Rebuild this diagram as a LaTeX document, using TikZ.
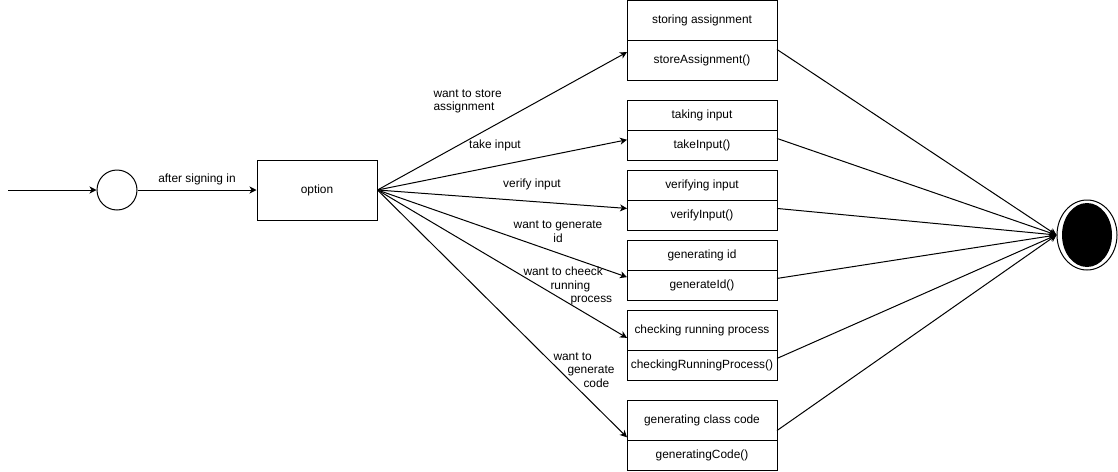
\documentclass[tikz,border=0pt]{standalone}
\usepackage{fontspec}
\setmainfont{Liberation Sans}
\usetikzlibrary{arrows.meta,shapes.geometric}

\begin{document}
\begin{tikzpicture}[x=1pt, y=-1pt, line width=1pt,
  font=\fontsize{11.9}{13.5}\selectfont,
  >={Stealth[length=7pt, width=7pt, inset=2pt]},
  box/.style={draw, rectangle, minimum width=150pt, inner sep=0pt, outer sep=0pt, anchor=north},
  lbl/.style={inner sep=0pt}]
  \useasboundingbox (0,0) rectangle (1118,471);

  % Start
  \coordinate (entry) at (8,190);
  \node[draw, circle, minimum size=40pt, inner sep=0pt] (start) at (117,190) {};
  \node[draw, rectangle, minimum width=120pt, minimum height=60pt] (option) at (317,190) {option};
  \draw[->] (entry) -- (start);
  \draw[->] (start) -- (option) node[midway, above=1pt] {after signing in};

  % Zustaende
  \foreach \n/\y/\topH/\botH/\title/\meth in {
      store/0/40/40/storing assignment/storeAssignment(),
      take/100/30/30/taking input/takeInput(),
      verify/170/30/30/verifying input/verifyInput(),
      genId/240/30/30/generating id/generateId(),
      check/310/40/30/checking running process/checkingRunningProcess(),
      class/400/40/30/generating class code/generatingCode()} {
    \node[box, minimum height=\topH pt] (\n T) at (702,\y) {\title};
    \node[box, minimum height=\botH pt] (\n B) at (702,{\y+\topH}) {\meth};
  }

  % Ende
  \node[draw, ellipse, minimum width=60pt, minimum height=70pt, inner sep=0pt] (done) at (1087,235) {};
  \node[fill=black, ellipse, minimum width=50pt, minimum height=64pt, inner sep=0pt] (doneIn) at (1087,235) {};

  % Uebergaenge
  \foreach \n/\a in {storeB/174, takeB/176, verifyB/175, genIdB/174, checkT/186, classT/193}
    \draw[->] (option.east) -- (\n.\a);
  \foreach \n/\a in {storeB/8, takeB/5, verifyB/5, genIdB/5, checkB/5, classT/352}
    \draw[->] (\n.\a) -- (done.west);

  % Beschriftungen
  \node[lbl, anchor=west, align=left] (lStore) at (433,101.5) {want to store\\assignment};
  \node[lbl] (lTake) at (495,145) {take input};
  \node[lbl] (lVerify) at (532,184) {verify input};
  \node[lbl, align=center] (lGenId) at (558,231.5) {want to generate\\id};
  \node[lbl, anchor=west, align=left] (lCheck) at (523,286)
    {want to cheeck\\\hspace*{27pt}running\\\hspace*{47pt}process};
  \node[lbl, anchor=west, align=left] (lCode) at (553,370)
    {want to\\\hspace*{14pt}generate\\\hspace*{30pt}code};
\end{tikzpicture}
\end{document}
